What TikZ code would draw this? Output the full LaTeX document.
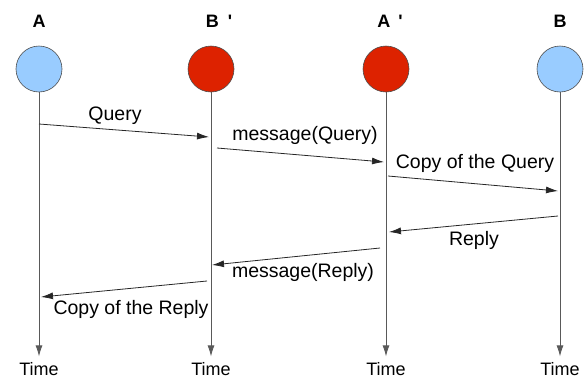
\documentclass[tikz,border=0pt]{standalone}
\usepackage{fontspec}
\setmainfont{Liberation Sans}
\usepackage{tikz}
\usetikzlibrary{arrows.meta}

\definecolor{peerblue}{RGB}{153,204,255}
\definecolor{proxyred}{RGB}{221,34,0}

\tikzset{
  peer/.style={circle,draw=black!70,line width=0.6pt,minimum size=46pt,inner sep=0pt},
  peername/.style={font=\fontsize{18}{18}\selectfont\bfseries},
  timelabel/.style={font=\fontsize{18}{18}\selectfont,inner sep=0pt,outer sep=6pt},
  msglabel/.style={font=\fontsize{19.5}{19.5}\selectfont,inner sep=0pt},
  lifeline/.style={draw=black!65,line width=0.8pt,-{Latex[length=11pt,width=7pt]}},
  msg/.style={draw=black!85,line width=0.8pt,-{Latex[length=12pt,width=7pt]}}
}

\begin{document}
\begin{tikzpicture}[x=1pt,y=-1pt]
\useasboundingbox (0,0) rectangle (587,378);

\node[peer,fill=peerblue](A) at (39,69){};
\node[peer,fill=proxyred](Bp) at (211,69){};
\node[peer,fill=proxyred](Ap) at (386,69){};
\node[peer,fill=peerblue](B) at (560,69){};

\node[peername](Aname) at (39,21){A};
\node[peername](Bpname) at (219,21){B\hspace{9pt}\textquotesingle};
\node[peername](Apname) at (390,21){A\hspace{8pt}\textquotesingle};
\node[peername](Bname) at (560,21){B};

\node[timelabel](At) at (39,369){Time};
\node[timelabel](Bpt) at (211,369){Time};
\node[timelabel](Apt) at (386,369){Time};
\node[timelabel](Bt) at (560,369){Time};

\draw[lifeline](A)--(At);
\draw[lifeline](Bp)--(Bpt);
\draw[lifeline](Ap)--(Apt);
\draw[lifeline](B)--(Bt);

\coordinate(q1) at (39,124);
\coordinate(q2) at (209,137);
\coordinate(q3) at (217,148);
\coordinate(q4) at (384,162);
\coordinate(q5) at (388,176);
\coordinate(q6) at (558,191);
\coordinate(r1) at (558,216);
\coordinate(r2) at (389,232);
\coordinate(r3) at (380,248);
\coordinate(r4) at (212,265);
\coordinate(r5) at (207,281);
\coordinate(r6) at (41,297);

\draw[msg](q1)--(q2);
\draw[msg](q3)--(q4);
\draw[msg](q5)--(q6);
\draw[msg](r1)--(r2);
\draw[msg](r3)--(r4);
\draw[msg](r5)--(r6);

\node[msglabel](query) at (115,116){Query};
\node[msglabel](mquery) at (305,135){message(Query)};
\node[msglabel](cquery) at (475,163){Copy of the Query};
\node[msglabel](reply) at (474,240){Reply};
\node[msglabel](mreply) at (303,272){message(Reply)};
\node[msglabel](creply) at (131,309){Copy of the Reply};

\end{tikzpicture}
\end{document}
